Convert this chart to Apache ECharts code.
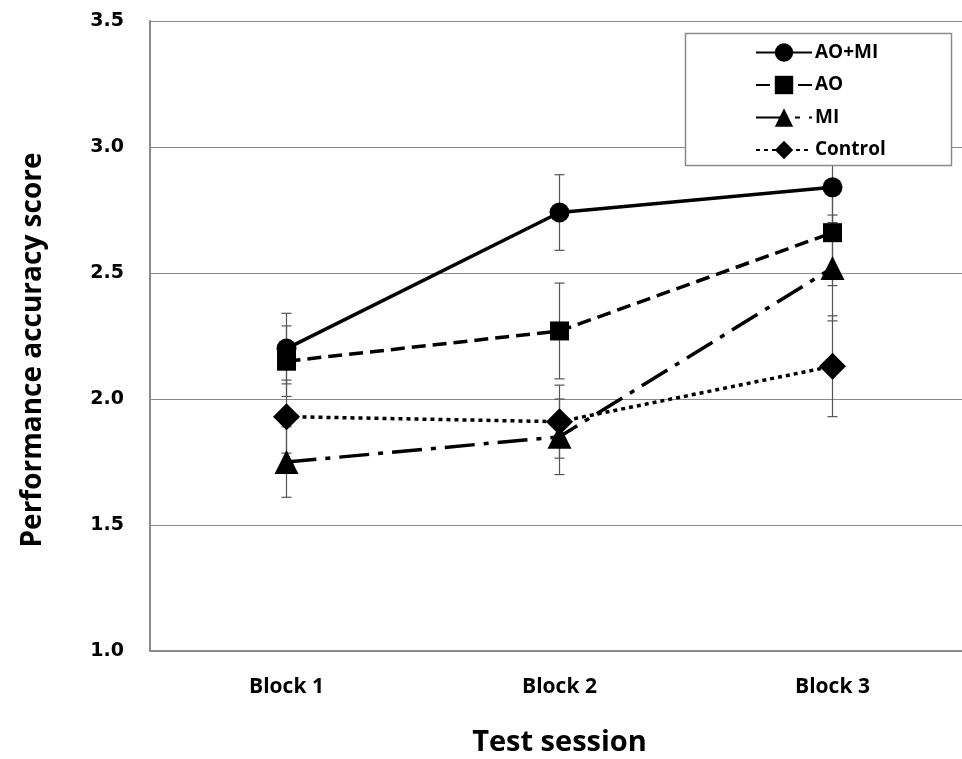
<!DOCTYPE html>
<html>
<head>
<meta charset="utf-8">
<script src="https://cdn.jsdelivr.net/npm/echarts@6/dist/echarts.min.js"></script>
<style>
  html, body { margin: 0; padding: 0; background: #fff; }
  #chart { width: 962px; height: 759px; }
</style>
</head>
<body>
<div id="chart"></div>
<script>
// Test sessions on the x axis
const categories = ['Block 1', 'Block 2', 'Block 3'];

// Group means per block
const aoMiMean = [2.20, 2.74, 2.84];
const aoMean = [2.15, 2.27, 2.66];
const miMean = [1.75, 1.85, 2.52];
const controlMean = [1.93, 1.91, 2.13];

// Error bar half-widths per block
const aoMiErr = [0.14, 0.15, 0.14];
const aoErr = [0.14, 0.19, 0.21];
const miErr = [0.14, 0.15, 0.21];
const controlErr = [0.145, 0.145, 0.20];

// Y axis range and ticks
const yMin = 1.0, yMax = 3.5, yStep = 0.5;

const titleFont = "'Liberation Sans Narrow', 'Open Sans', sans-serif";
const tickFont = "'DejaVu Sans', Verdana, sans-serif";

const groups = [
  { name: 'AO+MI', mean: aoMiMean, err: aoMiErr, symbol: 'circle', size: 20, dash: 'solid' },
  { name: 'AO', mean: aoMean, err: aoErr, symbol: 'rect', size: 19, dash: [14, 7] },
  { name: 'MI', mean: miMean, err: miErr, symbol: 'triangle', size: 24, dash: [30, 9, 5, 9] },
  { name: 'Control', mean: controlMean, err: controlErr, symbol: 'diamond', size: 27, dash: [4, 4] }
];

function errorBarSeries(g) {
  return {
    type: 'custom',
    name: g.name + ' error',
    z: 1,
    silent: true,
    data: g.mean.map((m, i) => [i, m - g.err[i], m + g.err[i]]),
    renderItem: function (params, api) {
      const x = api.value(0);
      const lo = api.coord([x, api.value(1)]);
      const hi = api.coord([x, api.value(2)]);
      const cap = 5;
      const style = { stroke: '#555', lineWidth: 1.2 };
      return {
        type: 'group',
        children: [
          { type: 'line', shape: { x1: lo[0], y1: lo[1], x2: hi[0], y2: hi[1] }, style: style },
          { type: 'line', shape: { x1: lo[0] - cap, y1: lo[1], x2: lo[0] + cap, y2: lo[1] }, style: style },
          { type: 'line', shape: { x1: hi[0] - cap, y1: hi[1], x2: hi[0] + cap, y2: hi[1] }, style: style }
        ]
      };
    }
  };
}

function lineSeries(g) {
  return {
    type: 'line',
    name: g.name,
    z: 3,
    data: g.mean,
    symbol: g.symbol,
    symbolSize: g.size,
    showAllSymbol: true,
    itemStyle: { color: '#000' },
    lineStyle: { color: '#000', width: 3.5, type: g.dash, cap: 'butt' },
    emphasis: { disabled: true }
  };
}

const chart = echarts.init(document.getElementById('chart'), null, { renderer: 'canvas' });

chart.setOption({
  animation: false,
  backgroundColor: '#fff',
  grid: { left: 150, top: 21, width: 819, height: 630, outerBoundsMode: 'none', containLabel: false },
  graphic: [{
    type: 'rect',
    z: 10,
    shape: { x: 685.5, y: 33.5, width: 266, height: 132 },
    style: { fill: '#fff', stroke: '#8a8a8a', lineWidth: 1.5 }
  }],
  legend: {
    z: 11,
    left: 750,
    top: 38,
    orient: 'vertical',
    itemWidth: 56,
    itemHeight: 23,
    itemGap: 13.5,
    data: groups.map(g => g.name),
    textStyle: { fontFamily: titleFont, fontWeight: 'bold', fontSize: 19, color: '#000', padding: [0, 0, 0, -2] }
  },
  xAxis: {
    type: 'category',
    data: categories,
    boundaryGap: true,
    axisLine: { show: true, lineStyle: { color: '#8a8a8a', width: 2 } },
    axisTick: { show: false },
    axisLabel: { margin: 26, color: '#000', fontFamily: titleFont, fontWeight: 'bold', fontSize: 21 },
    name: 'Test session',
    nameLocation: 'middle',
    nameGap: 77,
    nameTextStyle: { color: '#000', fontFamily: titleFont, fontWeight: 'bold', fontSize: 29 }
  },
  yAxis: {
    type: 'value',
    min: yMin,
    max: yMax,
    interval: yStep,
    axisLine: { show: true, lineStyle: { color: '#8a8a8a', width: 2 } },
    axisTick: { show: false },
    splitLine: { show: true, lineStyle: { color: '#8a8a8a', width: 1.2 } },
    axisLabel: {
      margin: 26,
      color: '#000',
      fontFamily: tickFont,
      fontWeight: 'bold',
      fontSize: 19,
      formatter: v => v.toFixed(1)
    },
    name: 'Performance accuracy score',
    nameLocation: 'middle',
    nameGap: 103,
    nameTextStyle: { color: '#000', fontFamily: titleFont, fontWeight: 'bold', fontSize: 28, padding: [0, 28, 0, 0] }
  },
  series: groups.map(errorBarSeries).concat(groups.map(lineSeries))
});
</script>
</body>
</html>
